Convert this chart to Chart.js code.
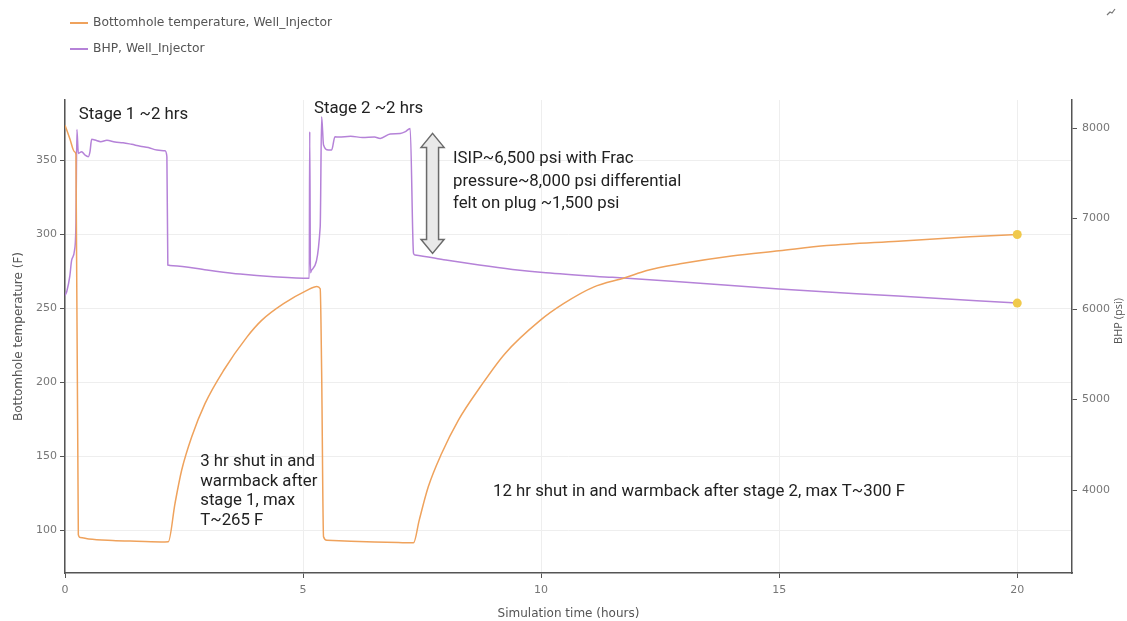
<!DOCTYPE html>
<html>
<head>
<meta charset="utf-8">
<script src="https://cdn.jsdelivr.net/npm/chart.js@4.4.0/dist/chart.umd.min.js"></script>
<style>
html, body { margin:0; padding:0; background:#fff; }
#wrap { width:1127px; height:621px; }
</style>
</head>
<body>
<div id="wrap"><canvas id="chart" width="1127" height="621"></canvas></div>
<script>
// Bottomhole temperature (F) vs time (hours)
const tempTime = [0, 0.10, 0.20, 0.23, 0.28, 0.32, 0.5, 1.0, 1.5, 2.1, 2.17,
  2.31, 2.45, 2.66, 2.94, 3.33, 3.82, 4.13, 4.59, 5.08, 5.29, 5.36, 5.39, 5.43, 5.50,
  6.0, 6.5, 7.0, 7.32, 7.44, 7.63, 7.91, 8.26, 8.72, 9.24, 9.98, 10.47, 11.10, 11.76,
  12.22, 12.92, 14.0, 15.0, 16.0, 17.5, 19.0, 20.0];
const tempValues = [374, 365, 356, 354, 97, 95, 94, 93, 92.5, 92, 92.1,
  118, 140.5, 163, 185.6, 208, 230.6, 241.9, 253.2, 262.2, 264.9, 263.3, 208, 95.5, 93.2,
  92.5, 92, 91.6, 91.4, 106.8, 129.3, 151.8, 174.3, 196.8, 219.4, 241.9, 253.2, 264.4, 270.7,
  275.7, 280.2, 285.5, 289, 292.5, 295.5, 298.5, 300];

// BHP (psi) vs time (hours)
const bhpTime = [0, 0.04, 0.10, 0.14, 0.20, 0.23, 0.25, 0.28, 0.35, 0.42, 0.49, 0.525,
  0.56, 0.63, 0.75, 0.88, 1.05, 1.22, 1.4, 1.58, 1.75, 1.93, 2.10, 2.14, 2.16, 2.27, 2.98, 3.68, 4.38, 5.13,
  5.14, 5.155, 5.18, 5.36, 5.39, 5.43, 5.53, 5.60, 5.67, 5.75, 6.0, 6.25, 6.5, 6.62,
  6.83, 7.04, 7.15, 7.25, 7.32, 7.35, 8.0, 8.7, 9.4, 10.1, 11.5, 12.9, 15.0, 17.5, 20.0];
const bhpValues = [6150, 6200, 6360, 6540, 6650, 6950, 7985, 7720, 7739, 7702, 7683, 7739,
  7875, 7867, 7850, 7865, 7845, 7838, 7820, 7800, 7785, 7757, 7749, 7683, 6486, 6478, 6431, 6387, 6357, 6339,
  7960, 6400, 6431, 6910, 8125, 7812, 7757, 7757, 7904, 7900, 7910, 7895, 7900, 7885,
  7935, 7940, 7960, 7996, 6615, 6597, 6541, 6486, 6438, 6401, 6350, 6302, 6221, 6144, 6066];

const timeTicks = [0, 5, 10, 15, 20];
const tempTicks = [100, 150, 200, 250, 300, 350];
const bhpTicks = [4000, 5000, 6000, 7000, 8000];
const seriesLabels = ['Bottomhole temperature, Well_Injector', 'BHP, Well_Injector'];
const seriesColors = ['#efa25c', '#b582d8'];
const bhpTitle = 'BHP (psi)';

// notes: text lines, time + temperature of first line
const notes = [
  { lines: ['Stage 1 ~2 hrs'], t: 0.29, temp: 381, step: 20 },
  { lines: ['Stage 2 ~2 hrs'], t: 5.23, temp: 385, step: 20 },
  { lines: ['ISIP~6,500 psi with Frac', 'pressure~8,000 psi differential', 'felt on plug ~1,500 psi'], t: 8.15, temp: 351, step: 22.5 },
  { lines: ['3 hr shut in and', 'warmback after', 'stage 1, max', 'T~265 F'], t: 2.84, temp: 146.2, step: 19.7 },
  { lines: ['12 hr shut in and warmback after stage 2, max T~300 F'], t: 8.99, temp: 126, step: 20 }
];
// double arrow between frac pressure and ISIP (BHP axis)
const arrowNote = { t: 7.72, top: 7941, bottom: 6615 };

function toPoints(xs, ys) {
  return xs.map((x, i) => ({ x: x, y: ys[i] }));
}

function lastDot(ctx) {
  return ctx.dataIndex === ctx.dataset.data.length - 1 ? 4.5 : 0;
}

function drawArrow(ctx, x, yTop, yBot) {
  const hw = 11.5, sw = 6, hl = 14;
  ctx.beginPath();
  ctx.moveTo(x, yTop);
  ctx.lineTo(x + hw, yTop + hl);
  ctx.lineTo(x + sw, yTop + hl);
  ctx.lineTo(x + sw, yBot - hl);
  ctx.lineTo(x + hw, yBot - hl);
  ctx.lineTo(x, yBot);
  ctx.lineTo(x - hw, yBot - hl);
  ctx.lineTo(x - sw, yBot - hl);
  ctx.lineTo(x - sw, yTop + hl);
  ctx.lineTo(x - hw, yTop + hl);
  ctx.closePath();
  ctx.fillStyle = '#e9e9e9';
  ctx.fill();
  ctx.strokeStyle = '#6a6a6a';
  ctx.lineWidth = 1.5;
  ctx.stroke();
}

const extras = {
  id: 'extras',
  afterDraw(chart) {
    const ctx = chart.ctx;
    const sx = chart.scales.x, sy = chart.scales.y, sy2 = chart.scales.y2;
    ctx.save();

    // legend
    ctx.font = '12.3px "DejaVu Sans"';
    ctx.textBaseline = 'middle';
    chart.data.datasets.forEach((ds, i) => {
      const y = 23 + i * 26;
      ctx.strokeStyle = ds.borderColor;
      ctx.lineWidth = 2;
      ctx.beginPath();
      ctx.moveTo(70, y);
      ctx.lineTo(88, y);
      ctx.stroke();
      ctx.fillStyle = '#555';
      ctx.fillText(ds.label, 93, y);
    });

    // right axis title, read bottom to top
    ctx.save();
    ctx.font = '11px "Open Sans"';
    ctx.translate(1119, 321);
    ctx.rotate(-Math.PI / 2);
    ctx.textAlign = 'center';
    ctx.fillStyle = '#555';
    ctx.fillText(bhpTitle, 0, 0);
    ctx.restore();

    // small icon top right
    ctx.strokeStyle = '#777';
    ctx.lineWidth = 1.2;
    ctx.beginPath();
    ctx.moveTo(1107, 15);
    ctx.lineTo(1110, 12);
    ctx.lineTo(1112, 13);
    ctx.lineTo(1115, 9);
    ctx.stroke();

    // text notes
    ctx.font = '16.8px Roboto';
    ctx.fillStyle = '#222';
    ctx.textBaseline = 'middle';
    notes.forEach(n => {
      const x = sx.getPixelForValue(n.t);
      const y0 = sy.getPixelForValue(n.temp);
      n.lines.forEach((line, k) => ctx.fillText(line, x, y0 + k * n.step));
    });

    drawArrow(ctx, sx.getPixelForValue(arrowNote.t),
      sy2.getPixelForValue(arrowNote.top), sy2.getPixelForValue(arrowNote.bottom));
    ctx.restore();
  }
};

const tickFont = { family: 'DejaVu Sans', size: 11 };
const titleFont = { family: 'DejaVu Sans', size: 12 };

const myChart = new Chart(document.getElementById('chart').getContext('2d'), {
  type: 'line',
  data: {
    datasets: [{
      label: seriesLabels[0],
      data: toPoints(tempTime, tempValues),
      yAxisID: 'y',
      borderColor: seriesColors[0],
      borderWidth: 1.5,
      pointRadius: lastDot,
      pointBackgroundColor: '#f0c94c',
      pointBorderWidth: 0,
      fill: false,
      cubicInterpolationMode: 'monotone'
    }, {
      label: seriesLabels[1],
      data: toPoints(bhpTime, bhpValues),
      yAxisID: 'y2',
      borderColor: seriesColors[1],
      borderWidth: 1.5,
      pointRadius: lastDot,
      pointBackgroundColor: '#f0c94c',
      pointBorderWidth: 0,
      fill: false,
      cubicInterpolationMode: 'monotone'
    }]
  },
  options: {
    responsive: false,
    animation: false,
    devicePixelRatio: 1,
    layout: { padding: { top: 100 } },
    plugins: {
      legend: { display: false },
      tooltip: { enabled: false }
    },
    scales: {
      x: {
        type: 'linear',
        min: 0,
        max: 21.15,
        afterBuildTicks: s => { s.ticks = timeTicks.map(v => ({ value: v })); },
        afterFit: s => { s.height = 48; },
        grid: { color: '#eeeeee', tickColor: '#555', tickLength: 5 },
        border: { color: '#555', width: 1.5 },
        ticks: { color: '#777', font: tickFont, padding: 6, maxRotation: 0 },
        title: { display: true, text: 'Simulation time (hours)', color: '#555', font: titleFont, padding: { top: 0, bottom: 0 } }
      },
      y: {
        position: 'left',
        min: 71,
        max: 391,
        afterBuildTicks: s => { s.ticks = tempTicks.map(v => ({ value: v })); },
        afterFit: s => { s.width = 65; },
        grid: { color: '#eeeeee', tickColor: '#555', tickLength: 5 },
        border: { color: '#555', width: 1.5 },
        ticks: { color: '#777', font: tickFont, padding: 3 },
        title: { display: true, text: 'Bottomhole temperature (F)', color: '#555', font: titleFont, padding: { top: 12, bottom: 0 } }
      },
      y2: {
        position: 'right',
        min: 3083,
        max: 8310,
        afterBuildTicks: s => { s.ticks = bhpTicks.map(v => ({ value: v })); },
        afterFit: s => { s.width = 55; },
        grid: { drawOnChartArea: false, tickColor: '#555', tickLength: 5 },
        border: { color: '#555', width: 1.5 },
        ticks: { color: '#777', font: tickFont, padding: 5, callback: v => String(v) }
      }
    }
  },
  plugins: [extras]
});
</script>
</body>
</html>
